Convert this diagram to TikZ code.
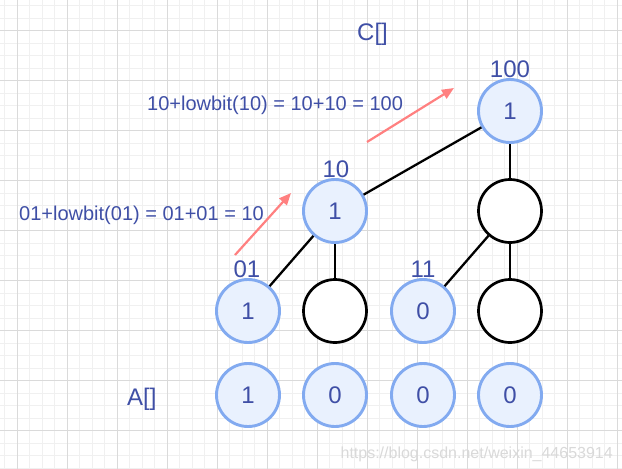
\documentclass[tikz,border=0pt]{standalone}
\usepackage{fontspec}
\setmainfont{Liberation Sans}
\usetikzlibrary{arrows.meta}
\definecolor{txt}{HTML}{3F4FA6}
\definecolor{bfill}{HTML}{E9F1FE}
\definecolor{bdraw}{HTML}{82AAF0}
\definecolor{minorg}{HTML}{F0F0F0}
\definecolor{majorg}{HTML}{DADADA}
\definecolor{redarr}{HTML}{FF8080}
\tikzset{
  minorline/.style={draw=minorg, line width=0.9pt},
  majorline/.style={draw=majorg, line width=1pt},
  bluenode/.style={circle, minimum size=63pt, inner sep=0pt, fill=bfill, draw=bdraw, line width=2.9pt, text=txt, font=\fontsize{24}{28}\selectfont},
  whitenode/.style={circle, minimum size=63pt, inner sep=0pt, fill=white, draw=black, line width=2.7pt},
  idxlabel/.style={text=txt, font=\fontsize{24}{28}\selectfont, inner sep=0pt},
  annot/.style={text=txt, font=\fontsize{20}{24}\selectfont, inner sep=0pt, anchor=base west},
  arrname/.style={text=txt, font=\fontsize{24}{28}\selectfont, inner sep=0pt, anchor=base west},
  edge/.style={draw=black, line width=2.3pt},
  redarrow/.style={draw=redarr, line width=2.2pt, -{Triangle[length=12pt,width=10pt]}},
}
\begin{document}
\begin{tikzpicture}[x=1pt,y=-1pt]
\useasboundingbox (0,0) rectangle (622,469);
\fill[white] (0,0) rectangle (622,469);
% grid
\foreach \i in {0,...,50} \draw[minorline] ({4.8+12.5*\i},0) -- ({4.8+12.5*\i},469);
\foreach \i in {0,...,38} \draw[minorline] (0,{5.7+12.5*\i}) -- (622,{5.7+12.5*\i});
\foreach \i in {0,...,12} \draw[majorline] ({17.3+50*\i},0) -- ({17.3+50*\i},469);
\foreach \i in {0,...,9} \draw[majorline] (0,{30.7+50*\i}) -- (622,{30.7+50*\i});

% C tree
\node[bluenode] (c4) at (510,111) {1};
\node[bluenode] (c2) at (335,211) {1};
\node[whitenode] (c4m) at (510,211) {};
\node[bluenode] (c1) at (248,311) {1};
\node[whitenode] (c2l) at (335,311) {};
\node[bluenode] (c3) at (423,311) {0};
\node[whitenode] (c4l) at (510,311) {};

% A row
\node[bluenode] (a1) at (248,395) {1};
\node[bluenode] (a2) at (335,395) {0};
\node[bluenode] (a3) at (423,395) {0};
\node[bluenode] (a4) at (510,395) {0};

% edges
\draw[edge] (c4) -- (c2);
\draw[edge] (c4) -- (c4m);
\draw[edge] (c2) -- (c1);
\draw[edge] (c2) -- (c2l);
\draw[edge] (c4m) -- (c3);
\draw[edge] (c4m) -- (c4l);

% index labels
\node[idxlabel] (l100) at (510,69) {100};
\node[idxlabel] (l10) at (336,169) {10};
\node[idxlabel] (l01) at (247,269) {01};
\node[idxlabel] (l11) at (423,269) {11};

% titles
\node[arrname] (ctitle) at (357,40) {C[]};
\node[arrname] (atitle) at (127,405) {A[]};

% annotations
\node[annot] (ann1) at (147,110) {10+lowbit(10) = 10+10 = 100};
\node[annot] (ann2) at (19,220) {01+lowbit(01) = 01+01 = 10};

% red arrows
\coordinate (r1s) at (235,255);
\coordinate (r1e) at (291,193);
\coordinate (r2s) at (367,142);
\coordinate (r2e) at (454,88);
\draw[redarrow] (r1s) -- (r1e);
\draw[redarrow] (r2s) -- (r2e);

% watermark
\node[text=black!15, font=\fontsize{16}{19}\selectfont, inner sep=0pt, anchor=base east] (wm) at (613,458) {https://blog.csdn.net/weixin\_44653914};
\end{tikzpicture}
\end{document}
